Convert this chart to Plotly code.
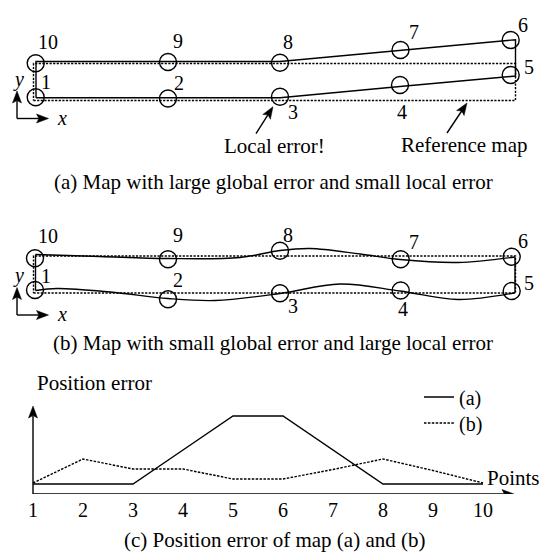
import numpy as np
import plotly.graph_objects as go

# ---------------- data ----------------
point_ids = [1, 2, 3, 4, 5, 6, 7, 8, 9, 10]

# reference map (dashed rectangle), map units
ref_x = [0, 482, 482, 0, 0]
ref_y = [0, 0, 37, 37, 0]

# (a) map with large global error / small local error
traj_a_x = [2.5, 134.5, 246.5, 366.5, 482, 482, 366.5, 246.5, 134.5, 2.5, 2.5]
traj_a_y = [2.7, 2.7, 2.8, 14, 24.5, 60.8, 50.4, 39, 39, 39, 2.7]
pts_a_x = [2.2, 134.5, 246.5, 366.5, 477.2, 477.2, 367, 246.5, 134.5, 2.2]
pts_a_y = [3.2, 2, 3.8, 15.5, 25.5, 60.5, 50.5, 37.8, 38.5, 37.2]

# (b) map with small global error / large local error
top_b_x = [2, 66.5, 134.5, 206.5, 246.5, 276.5, 326.5, 366.5, 424.5, 481.5]
top_b_y = [38.5, 36.5, 34.5, 35.5, 42.5, 44.5, 39, 33.5, 30.5, 36]
bot_b_x = [2, 23.5, 76.5, 134.5, 181.5, 246.5, 306.5, 366.5, 424.5, 481.5]
bot_b_y = [2.5, 4.5, 1, -5.5, -7.5, -0.5, 9, 2, -6.5, 0.3]
pts_b_x = [1.5, 134.5, 246.5, 367.2, 478.2, 478.2, 367.2, 246.5, 134.5, 1.5]
pts_b_y = [3, -6.3, -0.3, 2.5, 2, 36.3, 33.7, 42.3, 33.7, 34.7]

# (c) position error per point
err_a = [1.0, 1.0, 1.0, 4.4, 7.8, 7.8, 4.4, 1.0, 1.0, 1.0]
err_b = [1.1, 3.5, 2.5, 2.5, 1.5, 1.5, 2.45, 3.5, 2.35, 1.1]
tick_labels = [str(i) for i in point_ids]

# ---------------- styling / layout constants ----------------
W, H = 542, 555
FONT = "Liberation Serif"
LW = 1.4
DOT = "2.2px,1.4px"

X_MAP = [-33.5, 508.5]
Y_A = [100.5 - H, 100.5]
Y_B = [293 - H, 293]
X_C = [0.34, 11.18]
YC_DOM = [61 / H, 1]
Y_C = [0, 49.4]

# px per data unit
sx_map = W / (X_MAP[1] - X_MAP[0])
sy_map = H / (Y_A[1] - Y_A[0])
sx_c = W / (X_C[1] - X_C[0])
sy_c = H * (YC_DOM[1] - YC_DOM[0]) / (Y_C[1] - Y_C[0])

fig = go.Figure()


def line(x, y, xa, ya, dash=None, shape="linear", name=None, legend=None, width=LW):
    fig.add_trace(go.Scatter(
        x=x, y=y, xaxis=xa, yaxis=ya, mode="lines",
        line=dict(color="black", width=width, dash=dash, shape=shape, smoothing=1.0),
        hoverinfo="skip", showlegend=legend is not None, legend=legend or "legend",
        name=name))


def circles(x, y, ya):
    fig.add_trace(go.Scatter(
        x=x, y=y, xaxis="x", yaxis=ya, mode="markers",
        marker=dict(symbol="circle-open", size=17, color="black",
                    line=dict(width=LW, color="black")),
        hoverinfo="skip", showlegend=False))


def arrow(x0, y0, x1, y1, xa, ya, sx, sy, L=12, Wd=9):
    dx, dy = (x1 - x0) * sx, (y1 - y0) * sy
    n = np.hypot(dx, dy)
    ux, uy = dx / n, dy / n
    px_, py_ = -uy, ux
    bx, by = -L * ux, -L * uy
    nx, ny = -0.8 * L * ux, -0.8 * L * uy
    hx = [0, bx + Wd / 2 * px_, nx, bx - Wd / 2 * px_, 0]
    hy = [0, by + Wd / 2 * py_, ny, by - Wd / 2 * py_, 0]
    # shaft
    line([x0, x1 + nx / sx], [y0, y1 + ny / sy], xa, ya)
    fig.add_trace(go.Scatter(
        x=[x1 + v / sx for v in hx], y=[y1 + v / sy for v in hy],
        xaxis=xa, yaxis=ya, mode="lines", fill="toself", fillcolor="black",
        line=dict(color="black", width=0.5), hoverinfo="skip", showlegend=False))


annotations = []


def text(t, x, y, xref, yref, xs=0, ys=0, size=20, xanchor="center"):
    annotations.append(dict(text=t, x=x, y=y, xref=xref, yref=yref, xshift=xs, yshift=ys,
                            showarrow=False, xanchor=xanchor, yanchor="middle",
                            font=dict(family=FONT, size=size, color="black")))


# ---------- panel (a) ----------
line(ref_x, ref_y, "x", "y", dash=DOT)
line(traj_a_x, traj_a_y, "x", "y")
circles(pts_a_x, pts_a_y, "y")
off_a = [(10, 15), (10.5, 16), (13, -15), (2, -27), (18, 8.5),
         (12, 15), (13.5, 18), (8, 21), (10, 21), (12, 21)]
for pid, px, py, (ox, oy) in zip(point_ids, pts_a_x, pts_a_y, off_a):
    text(str(pid), px, py, "x", "y", ox, oy)

# ---------- panel (b) ----------
line(ref_x, ref_y, "x", "y2", dash=DOT)
line(top_b_x, top_b_y, "x", "y2", shape="spline")
line(bot_b_x, bot_b_y, "x", "y2", shape="spline")
line([top_b_x[0], bot_b_x[0]], [top_b_y[0], bot_b_y[0]], "x", "y2")
line([top_b_x[-1], bot_b_x[-1]], [top_b_y[-1], bot_b_y[-1]], "x", "y2")
circles(pts_b_x, pts_b_y, "y2")
off_b = [(11, 14), (10, 19), (13, -13), (2, -18), (17, 8.5),
         (11, 16), (13, 17), (8, 16), (10, 24), (13, 22)]
for pid, px, py, (ox, oy) in zip(point_ids, pts_b_x, pts_b_y, off_b):
    text(str(pid), px, py, "x", "y2", ox, oy)

# coordinate frame icons
for ya, cy in (("y", -18), ("y2", -22)):
    cx = -16.5
    arrow(cx, cy, cx, cy + 27.5, "x", ya, sx_map, sy_map)
    arrow(cx, cy, cx + 31.5, cy, "x", ya, sx_map, sy_map)
    text("<i>y</i>", cx, cy + 27.5, "x", ya, 1.5, 12)
    text("<i>x</i>", cx + 31.5, cy, "x", ya, 13, 1)

# pointers in (a)
p3x, p3y = pts_a_x[2], pts_a_y[2]
arrow(p3x - 24, p3y - 37, p3x - 7, p3y - 10, "x", "y", sx_map, sy_map)
text("Local error!", p3x - 6, p3y - 49, "x", "y", size=21)
arrow(ref_x[1] - 68.5, -32.5, ref_x[1] - 48.5, -2.5, "x", "y", sx_map, sy_map)
text("Reference map", ref_x[1] - 51, -44.5, "x", "y", size=21)

# ---------- panel (c) ----------
arrow(point_ids[0], 0, point_ids[0], 8.8, "x3", "y3", sx_c, sy_c)
arrow(point_ids[0], 0, 10.62, 0, "x3", "y3", sx_c, sy_c)
line(point_ids, err_a, "x3", "y3", name="(a)", legend="legend")
line(point_ids, err_b, "x3", "y3", dash="2.5px,1.4px", name="(b)", legend="legend2")
text("Position error", 1.04, 11.1, "x3", "y3", size=21, xanchor="left")
text("Points", 10.6, 1.6, "x3", "y3", size=21)

# captions
text("(a) Map with large global error and small local error", 273 / W, 1 - 182 / H, "paper", "paper", size=21)
text("(b) Map with small global error and large local error", 273 / W, 1 - 343 / H, "paper", "paper", size=21)
text("(c) Position error of map (a) and (b)", 274 / W, 1 - 540 / H, "paper", "paper", size=21)

hidden = dict(visible=False, showgrid=False, zeroline=False, fixedrange=True)
leg = dict(xanchor="left", yanchor="middle", bgcolor="rgba(0,0,0,0)",
           font=dict(family=FONT, size=20), itemwidth=30)
fig.update_layout(
    width=W, height=H, margin=dict(l=0, r=0, t=0, b=0),
    paper_bgcolor="white", plot_bgcolor="rgba(0,0,0,0)",
    font=dict(family=FONT, size=20, color="black"),
    xaxis=dict(domain=[0, 1], range=X_MAP, **hidden),
    yaxis=dict(domain=[0, 1], range=Y_A, anchor="x", **hidden),
    yaxis2=dict(range=Y_B, overlaying="y", anchor="x", **hidden),
    xaxis3=dict(domain=[0, 1], range=X_C, anchor="y3", showgrid=False, zeroline=False,
                showline=False, ticks="", tickvals=point_ids, ticktext=tick_labels,
                ticklabelstandoff=2,
                tickfont=dict(family=FONT, size=20), fixedrange=True),
    yaxis3=dict(domain=YC_DOM, range=Y_C, anchor="x3", **hidden),
    showlegend=True,
    legend=dict(x=419 / W, y=1 - 397 / H, **leg),
    legend2=dict(x=419 / W, y=1 - 423 / H, **leg),
    annotations=annotations,
)

fig.write_html("out.html", config={"displayModeBar": False, "staticPlot": True},
               post_script="document.body.style.margin='0px';document.body.style.overflow='hidden';")
